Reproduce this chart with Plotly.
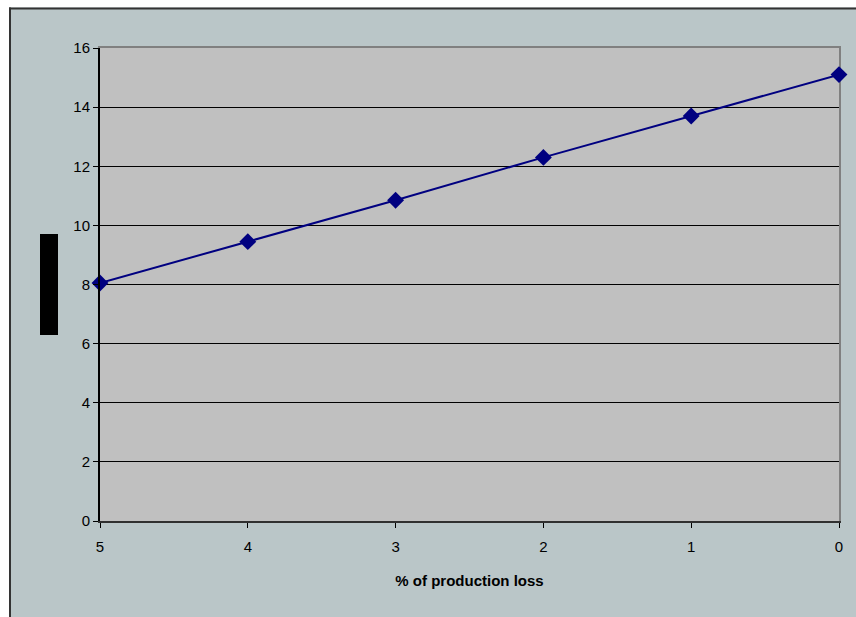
import plotly.graph_objects as go

# Production loss (%) and the corresponding value at each level
loss_pct = [5, 4, 3, 2, 1, 0]
values = [8.05, 9.45, 10.85, 12.3, 13.7, 15.1]
y_ticks = [0, 2, 4, 6, 8, 10, 12, 14, 16]
x_ticks = [5, 4, 3, 2, 1, 0]

W, H = 856, 617
L, R, T, B = 100, 17, 48, 96
pw, ph = W - L - R, H - T - B


def px_x(x):
    return (x - L) / pw


def px_y(y):
    return (H - B - y) / ph


bg = "#BAC6C8"
fig = go.Figure()
fig.add_trace(go.Scatter(
    x=loss_pct, y=values, mode="lines+markers",
    line=dict(color="#000080", width=2),
    marker=dict(symbol="diamond", size=13, color="#000080"),
    cliponaxis=False, showlegend=False,
))

shapes = [
    # white margin around the chart frame
    dict(type="rect", xref="paper", yref="paper", x0=px_x(-5), x1=px_x(W + 5),
         y0=px_y(-5), y1=px_y(7.5), fillcolor="white", line=dict(width=0), layer="above"),
    dict(type="rect", xref="paper", yref="paper", x0=px_x(-5), x1=px_x(9.5),
         y0=px_y(-5), y1=px_y(H + 5), fillcolor="white", line=dict(width=0), layer="above"),
    # chart frame border
    dict(type="line", xref="paper", yref="paper", x0=px_x(9), x1=px_x(W + 5),
         y0=px_y(8.5), y1=px_y(8.5), line=dict(color="#333333", width=2), layer="above"),
    dict(type="line", xref="paper", yref="paper", x0=px_x(10), x1=px_x(10),
         y0=px_y(7.5), y1=px_y(H + 5), line=dict(color="#333333", width=2), layer="above"),
    # vertical axis title block
    dict(type="rect", xref="paper", yref="paper", x0=px_x(40), x1=px_x(58),
         y0=px_y(335), y1=px_y(234), fillcolor="black", line=dict(width=0), layer="above"),
]

fig.update_layout(
    width=W, height=H,
    margin=dict(l=L, r=R, t=T, b=B),
    paper_bgcolor=bg, plot_bgcolor="#C0C0C0",
    font=dict(family="Liberation Sans, Arial, sans-serif", size=14, color="black"),
    shapes=shapes,
    xaxis=dict(
        range=[5, 0], tickvals=x_ticks, ticktext=[str(v) for v in x_ticks],
        showgrid=False, zeroline=False, showline=True, linecolor="#303030", linewidth=2,
        ticks="outside", ticklen=5, tickcolor="black", tickwidth=1,
        tickfont=dict(size=15), ticklabelstandoff=6,
        title=dict(text="<b>% of production loss</b>", font=dict(size=15), standoff=21),
    ),
    yaxis=dict(
        range=[0, 16], tickvals=y_ticks,
        showgrid=True, gridcolor="black", gridwidth=1, zeroline=False,
        showline=True, linecolor="black", linewidth=2,
        ticks="outside", ticklen=5, tickcolor="black", tickwidth=1,
        tickfont=dict(size=15),
    ),
    # grey top and right edges of the plot area, kept beneath the data line
    xaxis2=dict(overlaying="x", side="top", range=[5, 0], showline=True,
                linecolor="#808080", linewidth=2, showticklabels=False, ticks="",
                showgrid=False, zeroline=False, layer="below traces"),
    yaxis2=dict(overlaying="y", side="right", range=[0, 16], showline=True,
                linecolor="#808080", linewidth=2, showticklabels=False, ticks="",
                showgrid=False, zeroline=False, layer="below traces"),
)
# invisible helper trace so the overlay axes are drawn
fig.add_trace(go.Scatter(x=[None], y=[None], xaxis="x2", yaxis="y2",
                         showlegend=False, hoverinfo="skip"))

fig.write_html("out.html")
